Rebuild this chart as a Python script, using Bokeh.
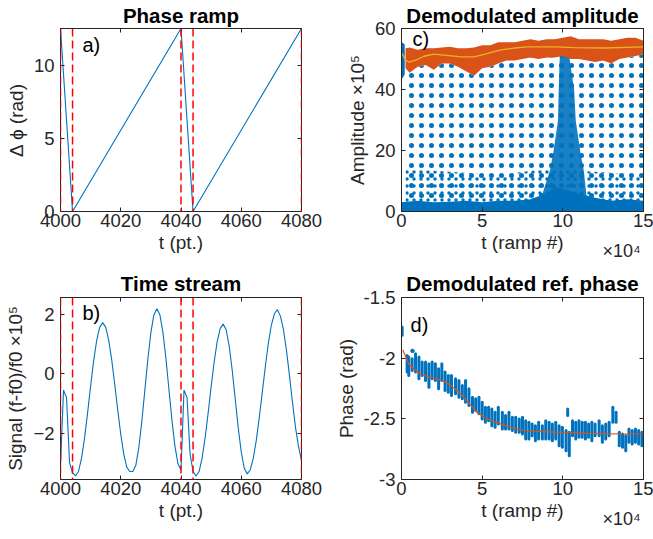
from bokeh.plotting import figure
from bokeh.models import Span, Label, LinearAxis, Range1d, FixedTicker
from bokeh.layouts import gridplot
from bokeh.embed import file_html
from bokeh.resources import INLINE

BLUE = "#0072BD"
ORANGE = "#D95319"
YELLOW = "#EDB120"
AX = "#262626"
FONT = "Liberation Sans"

# ---------------- data ----------------
# a) phase ramp (vertices of the piecewise-linear ramp)
ramp_t = [4000, 4004, 4040, 4044, 4080]
ramp_phi = [12.566, 0.0, 12.566, 0.0, 12.566]
marker_t = [4000, 4004, 4040, 4044, 4080]

# b) time stream, one sample per point 4000..4080 (x1e5)
stream_t = list(range(4000, 4081))
stream_sig = [
    -3.1, -0.55, -0.8, -3.0, -3.35, -3.45,
    -3.29, -2.84, -2.16, -1.31, -0.41, 0.44, 1.12, 1.57, 1.73,
    1.58, 1.14, 0.47, -0.35, -1.22, -2.04, -2.71, -3.15, -3.30, -3.30,
    -3.09, -2.49, -1.60, -0.55, 0.50, 1.39, 1.99, 2.20,
    1.99, 1.40, 0.52, -0.53, -1.57, -2.45, -3.04, -3.25,
    -0.55, -0.8, -2.7, -3.3, -3.45,
    -3.30, -2.85, -2.17, -1.33, -0.44, 0.40, 1.08, 1.53, 1.68,
    1.49, 0.94, 0.12, -0.85, -1.82, -2.64, -3.19, -3.38,
    -3.24, -2.85, -2.24, -1.46, -0.61, 0.25, 1.04, 1.65, 2.03, 2.17,
    1.95, 1.5, 0.8, -0.05, -0.95, -1.8, -2.45, -2.92,
]

# c) demodulated amplitude (x1e5), ramp numbers
init_x = [0, 1000, 2000]
init_top = [55.6, 55.2, 54.8]
init_bot = [43.5, 44.0, 45.0]

band_x = [2500, 5000, 10000, 15000, 20000, 25000, 30000, 35000, 40000, 45000,
          50000, 55000, 60000, 65000, 70000, 75000, 80000, 85000, 90000, 95000,
          100000, 105000, 110000, 115000, 120000, 125000, 130000, 135000, 140000,
          145000, 150000]
band_top = [53.5, 53.8, 53.0, 53.5, 53.5, 53.8, 54.0, 53.5, 53.5, 53.8,
            54.5, 54.5, 55.5, 55.5, 55.5, 56.0, 56.5, 56.0, 56.5, 56.5,
            57.0, 57.5, 56.5, 56.5, 56.5, 56.5, 56.0, 56.5, 57.0, 57.0, 56.0]
band_bot = [47.0, 45.5, 47.5, 48.0, 46.5, 48.5, 48.5, 47.5, 46.0, 44.5,
            47.0, 47.5, 48.5, 49.5, 49.5, 50.0, 50.5, 50.0, 50.5, 50.5,
            51.0, 50.0, 50.0, 49.5, 49.0, 49.5, 48.5, 50.0, 50.5, 51.0, 51.5]

floor_x = [0, 10000, 20000, 30000, 40000, 50000, 60000, 70000, 80000, 85000,
           90000, 95000, 120000, 125000, 130000, 140000, 150000]
floor_top = [3.0, 3.5, 3.0, 3.2, 3.5, 3.0, 3.5, 3.5, 4.0, 5.0,
             6.0, 8.0, 4.5, 4.0, 3.5, 4.0, 3.5]

dots_low_x = [2500, 30000, 60000, 90000, 120000, 150000]
dots_low_top = [14.0, 13.0, 12.0, 14.0, 13.0, 12.0]

spike_x = [86000, 92000, 94000, 97000, 97500, 98000, 98600, 103500, 105000,
           107000, 108000, 111000, 113000, 115000]
spike_y = [3.6, 13.4, 19.0, 29.8, 40.7, 49.5, 53.0, 53.0, 47.0,
           40.0, 29.8, 19.0, 13.4, 3.6]

fit_x = [400, 2500, 4500, 8700, 14000, 20000, 28000, 37000, 45000, 53000,
         61000, 70000, 78000, 95000, 107000, 126000, 150000]
fit_amp = [51.8, 49.6, 49.0, 49.6, 50.9, 51.6, 51.2, 50.7, 50.7, 51.8,
           52.9, 53.6, 54.0, 54.0, 53.7, 53.6, 54.0]

# d) demodulated reference phase: clusters (x, top, bottom)
clu_x = [400, 3500, 4500, 6600, 8700, 10800, 12800, 14900, 17000, 19000,
         21000, 23000, 25000, 27000, 29000, 31000, 33500, 35600, 37700, 39700,
         41800, 44000, 46000, 48000, 50000, 52000, 54000, 56000, 58000, 60000,
         62500, 64500, 66600, 68700, 70800, 73000, 75000, 77000, 79000, 81000,
         83000, 85000, 87300, 89400, 91500, 93500, 95600, 97700, 99700, 102000,
         103000, 104000, 106000, 108000, 110000, 112000, 114000, 116000, 118000,
         120000, 122500, 124500, 126600, 128700, 131000, 133000, 135000, 137000,
         139000, 141000, 143000, 145000, 147000, 149000]
clu_top = [-1.743, -1.977, -1.991, -2.005, -1.963, -1.991, -2.032, -2.032, -2.046, -2.032,
           -2.046, -2.087, -2.046, -2.115, -2.142, -2.142, -2.170, -2.184, -2.225, -2.184,
           -2.253, -2.322, -2.335, -2.322, -2.363, -2.404, -2.404, -2.418, -2.446, -2.404,
           -2.446, -2.473, -2.446, -2.487, -2.487, -2.501, -2.487, -2.515, -2.528, -2.542,
           -2.556, -2.528, -2.556, -2.515, -2.528, -2.542, -2.528, -2.556, -2.570, -2.597,
           -2.418, -2.611, -2.515, -2.528, -2.515, -2.528, -2.528, -2.542, -2.528,
           -2.542, -2.515, -2.556, -2.542, -2.528, -2.404, -2.446, -2.611, -2.625,
           -2.639, -2.584, -2.597, -2.584, -2.597, -2.611]
clu_bot = [-1.812, -2.115, -2.142, -2.101, -2.115, -2.170, -2.142, -2.184, -2.239, -2.170,
           -2.184, -2.253, -2.184, -2.266, -2.280, -2.308, -2.294, -2.322, -2.335, -2.363,
           -2.391, -2.446, -2.432, -2.459, -2.501, -2.528, -2.515, -2.556, -2.570, -2.542,
           -2.584, -2.584, -2.584, -2.597, -2.611, -2.611, -2.625, -2.666, -2.666, -2.639,
           -2.680, -2.666, -2.666, -2.666, -2.666, -2.680, -2.666, -2.721, -2.735, -2.763,
           -2.473, -2.804, -2.639, -2.666, -2.652, -2.652, -2.666, -2.652, -2.680,
           -2.639, -2.639, -2.694, -2.666, -2.639, -2.528, -2.528, -2.721, -2.735,
           -2.763, -2.694, -2.708, -2.694, -2.708, -2.721]
single_x = [6800]
single_y = [-1.94]

fitd_x = [800, 4500, 8700, 11800, 18000, 25000, 29000, 35000, 41000, 47000,
          53000, 61000, 70000, 78000, 95000, 115000, 136000, 150000]
fitd_ph = [-1.931, -2.05, -2.10, -2.13, -2.16, -2.18, -2.21, -2.27, -2.36, -2.45,
           -2.50, -2.54, -2.58, -2.60, -2.61, -2.62, -2.625, -2.625]

W1 = 326
W2 = 653 - W1

# ---------------- helpers ----------------
def make_fig(w, h, bl, br, bt, bb, xr, yr, title, title_standoff):
    p = figure(width=w, height=h, x_range=Range1d(*xr), y_range=Range1d(*yr),
               output_backend="svg", toolbar_location=None,
               min_border_left=bl, min_border_right=br,
               min_border_top=bt, min_border_bottom=bb, title=title)
    p.title.text_font = FONT
    p.title.text_font_size = "20.5px"
    p.title.text_font_style = "bold"
    p.title.text_color = "black"
    p.title.align = "center"
    p.title.standoff = title_standoff
    p.title.offset = 0
    p.grid.visible = False
    p.outline_line_color = AX
    p.outline_line_alpha = 1.0
    p.background_fill_color = "white"
    p.border_fill_color = "white"
    return p


def mirror_axis(ticks):
    # tick marks only (MATLAB "box on" style), no labels drawn
    return LinearAxis(ticker=FixedTicker(ticks=ticks), major_label_text_font_size="0px",
                      major_label_text_color=None, major_label_standoff=0,
                      major_tick_in=4, major_tick_out=0, minor_tick_line_color=None,
                      axis_line_color=AX, major_tick_line_color=AX)


def style_axes(p, xticks, yticks, xlabel, ylabel, xover=None, yover=None):
    for ax in p.xaxis:
        ax.ticker = FixedTicker(ticks=xticks)
        ax.axis_label = xlabel
        ax.major_label_standoff = 2
        ax.axis_label_standoff = 2
    for ax in p.yaxis:
        ax.ticker = FixedTicker(ticks=yticks)
        ax.axis_label = ylabel
        ax.major_label_standoff = 6
        ax.axis_label_standoff = 4
    if xover:
        p.xaxis.major_label_overrides = xover
    if yover:
        p.yaxis.major_label_overrides = yover
    for ax in list(p.xaxis) + list(p.yaxis):
        ax.major_label_text_font = FONT
        ax.major_label_text_font_size = "18.5px"
        ax.major_label_text_color = AX
        ax.axis_label_text_font = FONT
        ax.axis_label_text_font_size = "19px"
        ax.axis_label_text_font_style = "normal"
        ax.axis_label_text_color = AX
        ax.major_tick_in = 4
        ax.major_tick_out = 0
        ax.minor_tick_line_color = None
        ax.axis_line_color = AX
        ax.major_tick_line_color = AX
    p.add_layout(mirror_axis(xticks), "above")
    p.add_layout(mirror_axis(yticks), "right")


def exponent_axis(p, tick_at, text):
    # MATLAB-style axis exponent label, drawn as a label-only axis under the x axis
    ax = LinearAxis(ticker=FixedTicker(ticks=[tick_at]),
                    major_label_overrides={tick_at: text},
                    major_label_text_font=FONT, major_label_text_font_size="18px",
                    major_label_text_color=AX, major_label_standoff=-15,
                    major_tick_in=0, major_tick_out=0, major_tick_line_color=None,
                    minor_tick_line_color=None, axis_line_color=None)
    p.add_layout(ax, "below")


def tag(p, x, y, text):
    p.add_layout(Label(x=x, y=y, text=text, text_font=FONT, text_font_size="20px",
                       text_color="black", text_baseline="middle", text_align="left"))


# ---------------- a) Phase ramp ----------------
pa = make_fig(W1, 265, 60, W1 - 301, 28, 54, (4000, 4080), (0, 12.566), "Phase ramp", 3)
pa.line(ramp_t, ramp_phi, line_color=BLUE, line_width=1.1)
for t in marker_t:
    pa.add_layout(Span(location=t, dimension="height", line_color="#FF0000",
                       line_dash="8 4", line_width=1.5))
style_axes(pa, [4000, 4020, 4040, 4060, 4080], [0, 5, 10], "t (pt.)", "Δ ϕ (rad)")
tag(pa, 4007.3, 11.4, "a)")

# ---------------- c) Demodulated amplitude ----------------
pc = make_fig(W2, 265, 401 - W1, 10, 28, 54, (0, 150000), (0, 60), "Demodulated amplitude", 3)
# sparse dots (textured region)
pc.varea(x=band_x, y1=[3.0] * len(band_x), y2=band_bot, fill_alpha=0,
         hatch_pattern="dot", hatch_color=BLUE, hatch_scale=10, hatch_weight=0.8)
pc.varea(x=dots_low_x, y1=[3.0] * len(dots_low_x), y2=dots_low_top, fill_alpha=0,
         hatch_pattern="dot", hatch_color=BLUE, hatch_scale=7, hatch_weight=0.8)
pc.varea(x=floor_x, y1=[0] * len(floor_x), y2=floor_top, fill_color=BLUE)
pc.patch(spike_x, spike_y, fill_color=BLUE, fill_alpha=0.9, line_color=None)
pc.varea(x=init_x, y1=init_bot, y2=init_top, fill_color=BLUE)
pc.varea(x=band_x, y1=band_bot, y2=band_top, fill_color=ORANGE)
pc.line(fit_x, fit_amp, line_color=YELLOW, line_width=1.3)
style_axes(pc, [0, 50000, 100000, 150000], [0, 20, 40, 60], "t (ramp #)", "Amplitude ×10⁵",
           xover={0: "0", 50000: "5", 100000: "10", 150000: "15"})
tag(pc, 6800, 56.6, "c)")
exponent_axis(pc, 136500, "×10⁴")

# ---------------- b) Time stream ----------------
pb = make_fig(W1, 274, 60, W1 - 301, 32, 60, (4000, 4080), (-3.57, 2.58), "Time stream", 6)
pb.line(stream_t, stream_sig, line_color=BLUE, line_width=1.1)
for t in marker_t:
    pb.add_layout(Span(location=t, dimension="height", line_color="#FF0000",
                       line_dash="8 4", line_width=1.5))
style_axes(pb, [4000, 4020, 4040, 4060, 4080], [-2, 0, 2], "t (pt.)", "Signal (f-f0)/f0 ×10⁵")
tag(pb, 4007.3, 2.06, "b)")

# ---------------- d) Demodulated ref. phase ----------------
pd_ = make_fig(W2, 274, 401 - W1, 10, 32, 60, (0, 150000), (-3, -1.5),
               "Demodulated ref. phase", 6)
pd_.segment(x0=clu_x, y0=clu_bot, x1=clu_x, y1=clu_top, line_color=BLUE,
            line_width=3.0, line_cap="round")
pd_.scatter(single_x, single_y, size=3.5, color=BLUE)
pd_.line(fitd_x, fitd_ph, line_color=ORANGE, line_width=1.2)
style_axes(pd_, [0, 50000, 100000, 150000], [-3, -2.5, -2, -1.5], "t (ramp #)", "Phase (rad)",
           xover={0: "0", 50000: "5", 100000: "10", 150000: "15"},
           yover={-3: "-3", -2.5: "-2.5", -2: "-2", -1.5: "-1.5"})
tag(pd_, 5600, -1.73, "d)")
exponent_axis(pd_, 136500, "×10⁴")

grid = gridplot([[pa, pc], [pb, pd_]], toolbar_location=None)

with open("out.html", "w") as f:
    f.write(file_html(grid, INLINE))
